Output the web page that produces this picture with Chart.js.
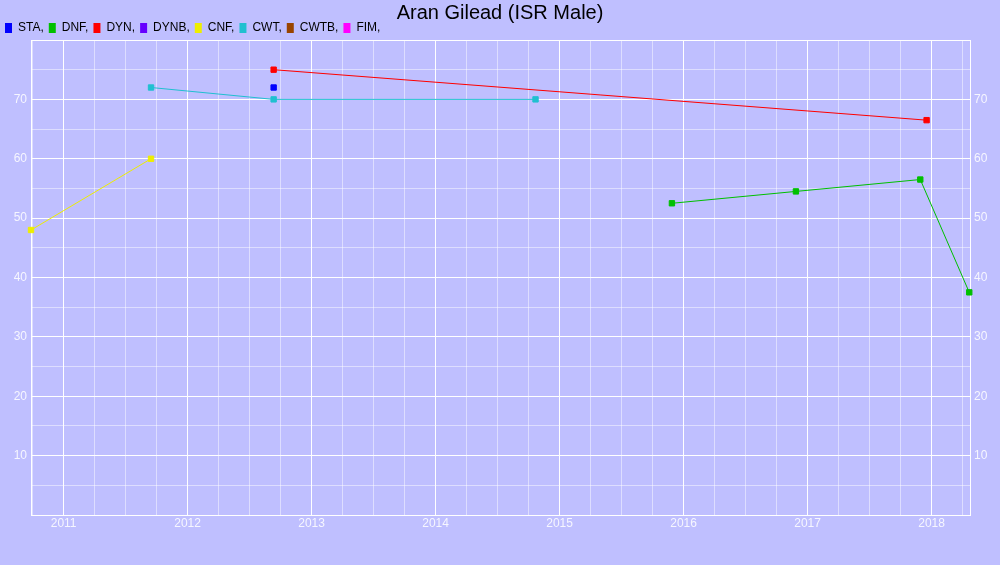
<!DOCTYPE html>
<html>
<head>
<meta charset="utf-8">
<script src="https://cdn.jsdelivr.net/npm/chart.js@4"></script>
<style>
html,body{margin:0;padding:0;background:#bfbfff;}
#wrap{width:1000px;height:565px;}
</style>
</head>
<body>
<div id="wrap"><canvas id="c" width="1000" height="565"></canvas></div>
<script>
// ---- data ----
const seriesNames = ['STA','DNF','DYN','DYNB','CNF','CWT','CWTB','FIM'];
const seriesColors = ['#0000ff','#00c000','#ff0000','#6600ff','#eeee00','#20c0d0','#994400','#ff00ff'];

const staX = [2012.694];
const staY = [72];
const dnfX = [2015.906, 2016.906, 2017.909, 2018.304];
const dnfY = [52.5, 54.5, 56.5, 37.5];
const dynX = [2012.694, 2017.960];
const dynY = [75, 66.5];
const dynbX = [];
const dynbY = [];
const cnfX = [2010.737, 2011.705];
const cnfY = [48, 60];
const cwtX = [2011.705, 2012.694, 2014.806];
const cwtY = [72, 70, 70];
const cwtbX = [];
const cwtbY = [];
const fimX = [];
const fimY = [];

const xTickLabels = [2011, 2012, 2013, 2014, 2015, 2016, 2017, 2018];
const yTickLabels = [10, 20, 30, 40, 50, 60, 70];

const xMin = 2010.737, xMax = 2018.31;
const yMin = 0, yMax = 80;

const allX = [staX, dnfX, dynX, dynbX, cnfX, cwtX, cwtbX, fimX];
const allY = [staY, dnfY, dynY, dynbY, cnfY, cwtY, cwtbY, fimY];

const datasets = seriesNames.map((n, i) => ({
  label: n,
  data: allX[i].map((x, j) => ({x: x, y: allY[i][j]})),
  borderColor: seriesColors[i],
  backgroundColor: seriesColors[i],
  borderWidth: 1,
  pointStyle: 'rect',
  pointRadius: 3.8,
  pointBorderWidth: 1,
  pointHoverRadius: 3.8,
  showLine: true,
  tension: 0,
  fill: false,
  clip: false
}));

const FONT = 'Arial, "Liberation Sans", sans-serif';
const MINOR = 'rgba(255,255,255,0.48)';
const MAJOR = '#ffffff';
const TICKC = '#f6f6ff';

const bgPlugin = {
  id: 'bg',
  beforeDraw(chart) {
    const ctx = chart.ctx;
    ctx.save();
    ctx.fillStyle = '#bfbfff';
    ctx.fillRect(0, 0, chart.width, chart.height);
    ctx.restore();
  }
};

new Chart(document.getElementById('c'), {
  type: 'line',
  data: { datasets },
  plugins: [bgPlugin],
  options: {
    responsive: false,
    devicePixelRatio: 1,
    animation: false,
    layout: { padding: 0 },
    plugins: {
      tooltip: { enabled: false },
      title: {
        display: true,
        text: 'Aran Gilead (ISR Male)',
        color: '#000000',
        font: { family: FONT, size: 20, weight: 'normal', lineHeight: 0.4 },
        padding: { top: 9, bottom: 0 }
      },
      legend: {
        display: true,
        position: 'top',
        align: 'start',
        maxHeight: 23,
        labels: {
          boxWidth: 7,
          boxHeight: 10,
          padding: 5,
          color: '#000000',
          font: { family: FONT, size: 12 },
          generateLabels(chart) {
            const items = Chart.defaults.plugins.legend.labels.generateLabels(chart);
            items.forEach(it => { it.text = it.text + ','; it.lineWidth = 0; });
            return items;
          }
        }
      }
    },
    scales: {
      x: {
        type: 'linear',
        min: xMin,
        max: xMax,
        afterBuildTicks(scale) {
          const t = [];
          for (let q = Math.ceil(xMin * 4); q / 4 <= xMax; q++) t.push({ value: q / 4 });
          scale.ticks = t;
        },
        afterFit(scale) { scale.height = 50; },
        ticks: {
          color: TICKC,
          font: { family: FONT, size: 12 },
          padding: 1,
          maxRotation: 0,
          autoSkip: false,
          callback(v) { return xTickLabels.includes(v) ? String(v) : ''; }
        },
        grid: {
          drawTicks: false,
          color(ctx) { return (ctx.tick && Number.isInteger(ctx.tick.value)) ? MAJOR : MINOR; },
          lineWidth: 1
        },
        border: { display: true, color: MAJOR, width: 1 }
      },
      y: {
        type: 'linear',
        position: 'left',
        min: yMin,
        max: yMax,
        afterFit(scale) { scale.width = 31; },
        ticks: {
          stepSize: 5,
          color: TICKC,
          font: { family: FONT, size: 12 },
          padding: 4,
          autoSkip: false,
          callback(v) { return yTickLabels.includes(v) ? String(v) : ''; }
        },
        grid: {
          drawTicks: false,
          color(ctx) { return (ctx.tick && ctx.tick.value % 10 === 0) ? MAJOR : MINOR; },
          lineWidth: 1
        },
        border: { display: true, color: MAJOR, width: 1 }
      },
      y2: {
        type: 'linear',
        position: 'right',
        min: yMin,
        max: yMax,
        afterFit(scale) { scale.width = 30; },
        ticks: {
          stepSize: 5,
          color: TICKC,
          font: { family: FONT, size: 12 },
          padding: 4,
          autoSkip: false,
          callback(v) { return yTickLabels.includes(v) ? String(v) : ''; }
        },
        grid: { display: false, drawTicks: false },
        border: { display: true, color: MAJOR, width: 1 }
      }
    }
  }
});
</script>
</body>
</html>
